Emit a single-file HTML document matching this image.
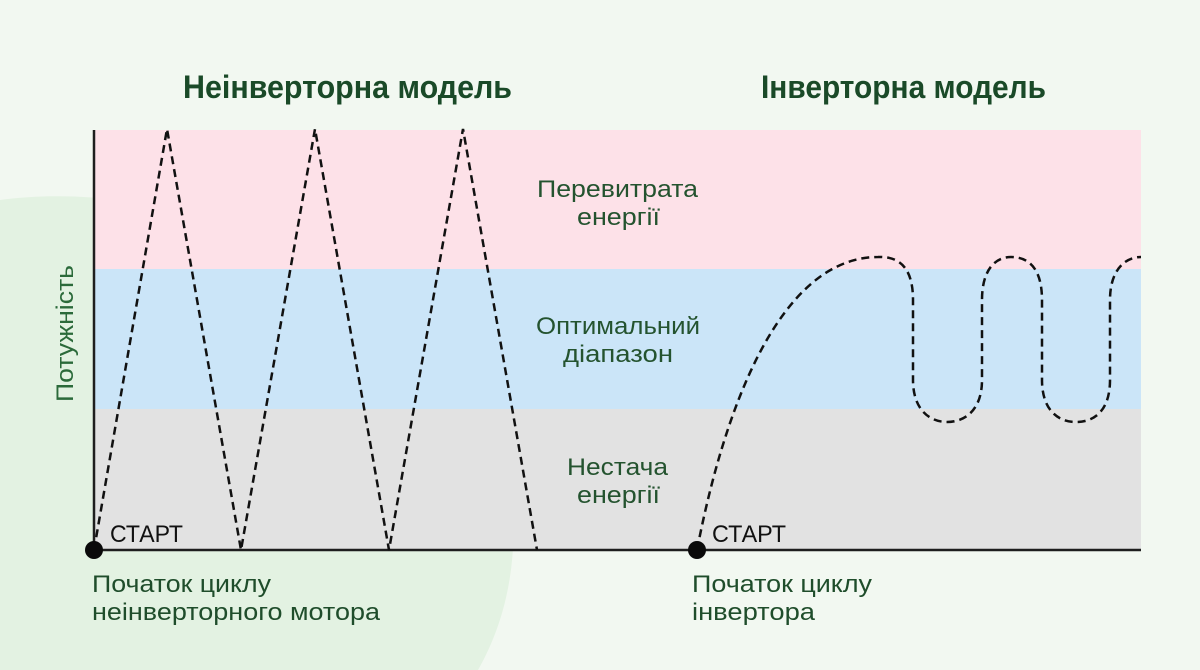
<!DOCTYPE html>
<html><head><meta charset="utf-8"><style>
html,body{margin:0;padding:0;background:#f2f8f1;}
svg{display:block;}
text{font-family:"Liberation Sans","DejaVu Sans",sans-serif;}
</style></head><body>
<svg width="1200" height="670" viewBox="0 0 1200 670" xmlns="http://www.w3.org/2000/svg">
<rect x="0" y="0" width="1200" height="670" fill="#f2f8f1"/>
<path d="M0,200 C200,172 525,300 513,548 C510,600 495,640 478,670 L0,670 Z" fill="#e3f2e2"/>
<!-- bands -->
<rect x="94" y="130" width="1047" height="139" fill="#fde1e8"/>
<rect x="94" y="269" width="1047" height="140" fill="#cbe5f8"/>
<rect x="94" y="409" width="1047" height="141" fill="#e2e2e2"/>
<!-- axes -->
<line x1="94" y1="130" x2="94" y2="550" stroke="#1e1e1e" stroke-width="2.5"/>
<line x1="94" y1="550" x2="1141" y2="550" stroke="#1e1e1e" stroke-width="2.5"/>
<!-- titles -->
<text x="183" y="98" font-size="32" font-weight="bold" fill="#1a4a28" textLength="329" lengthAdjust="spacingAndGlyphs">Неінверторна модель</text>
<text x="761" y="98" font-size="32" font-weight="bold" fill="#1a4a28" textLength="285" lengthAdjust="spacingAndGlyphs">Інверторна модель</text>
<!-- band labels -->
<g fill="#24532f" font-size="24">
<text x="537" y="197" textLength="161" lengthAdjust="spacingAndGlyphs">Перевитрата</text>
<text x="577" y="225" textLength="83" lengthAdjust="spacingAndGlyphs">енергії</text>
<text x="536" y="334" textLength="164" lengthAdjust="spacingAndGlyphs">Оптимальний</text>
<text x="563" y="362" textLength="110" lengthAdjust="spacingAndGlyphs">діапазон</text>
<text x="567" y="475" textLength="101" lengthAdjust="spacingAndGlyphs">Нестача</text>
<text x="577" y="503" textLength="83" lengthAdjust="spacingAndGlyphs">енергії</text>
</g>
<!-- y label -->
<text transform="translate(73,402) rotate(-90)" x="0" y="0" font-size="24" fill="#2b6a3a" textLength="137" lengthAdjust="spacingAndGlyphs">Потужність</text>
<!-- dashed lines -->
<polyline points="94,550 167,129 241,550 315,129 389,550 463,129 537,550" fill="none" stroke="#111" stroke-width="2.5" stroke-dasharray="8 5"/>
<path d="M697,550 C730,380 790,257 878,257 C905,256 913,275 913,300 L913,380 C913,410 930,422 947,422 C965,422 982,410 982,380 L982,300 C982,270 995,257 1011,257 C1030,257 1042,270 1042,300 L1042,380 C1042,410 1058,422 1076,422 C1095,422 1110,410 1110,380 L1110,300 C1110,270 1125,257 1141,257" fill="none" stroke="#111" stroke-width="2.5" stroke-dasharray="8 5"/>
<!-- dots -->
<circle cx="94" cy="550" r="9" fill="#0a0a0a"/>
<circle cx="697" cy="550" r="9" fill="#0a0a0a"/>
<!-- START labels -->
<text x="110" y="542" font-size="24" fill="#111" textLength="73" lengthAdjust="spacingAndGlyphs">СТАРТ</text>
<text x="712" y="542" font-size="24" fill="#111" textLength="74" lengthAdjust="spacingAndGlyphs">СТАРТ</text>
<!-- bottom labels -->
<g fill="#1f4d2b" font-size="24">
<text x="92" y="592" textLength="179" lengthAdjust="spacingAndGlyphs">Початок циклу</text>
<text x="92" y="620" textLength="288" lengthAdjust="spacingAndGlyphs">неінверторного мотора</text>
<text x="692" y="592" textLength="180" lengthAdjust="spacingAndGlyphs">Початок циклу</text>
<text x="692" y="620" textLength="123" lengthAdjust="spacingAndGlyphs">інвертора</text>
</g>
</svg>
</body></html>
